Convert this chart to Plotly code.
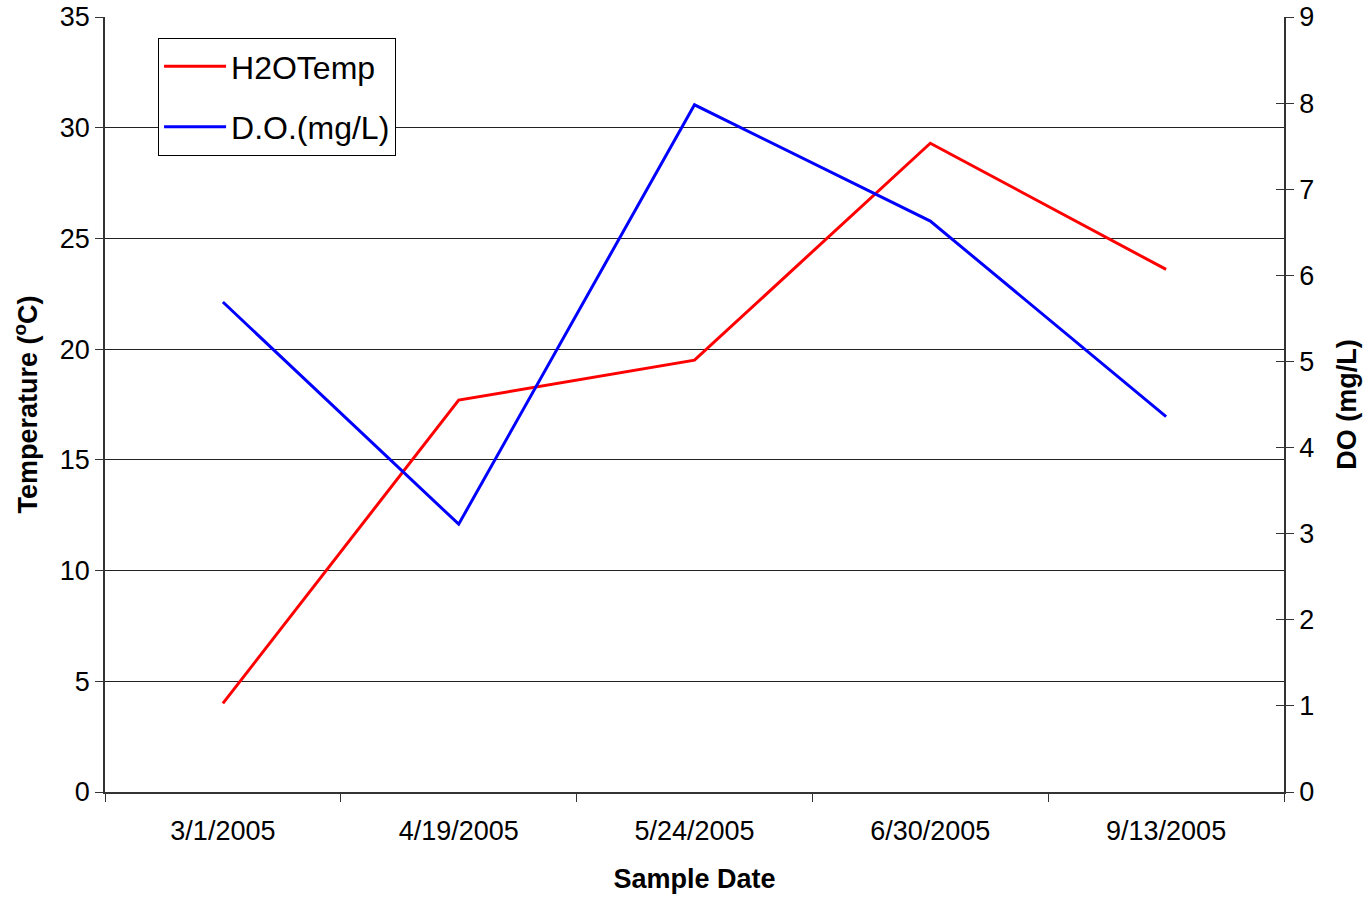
import plotly.graph_objects as go

dates = ["3/1/2005", "4/19/2005", "5/24/2005", "6/30/2005", "9/13/2005"]
temp_c = [4.0, 17.7, 19.5, 29.3, 23.6]
do_mgl = [5.69, 3.11, 7.98, 6.63, 4.36]

fig = go.Figure()
fig.add_trace(go.Scatter(x=dates, y=temp_c, mode="lines", name="H2OTemp",
                         legendgroup="a",
                         line=dict(color="#FF0000", width=3), yaxis="y"))
fig.add_trace(go.Scatter(x=dates, y=do_mgl, mode="lines", name="D.O.(mg/L)",
                         legendgroup="b",
                         line=dict(color="#0000FF", width=3), yaxis="y2"))
fig.add_trace(go.Scatter(x=[dates[0]], y=[None], yaxis="y3", showlegend=False,
                         hoverinfo="skip"))

font = "Liberation Sans, Arial, sans-serif"
fig.update_layout(
    width=1365, height=897,
    margin=dict(l=105, r=81, t=17, b=105),
    plot_bgcolor="white", paper_bgcolor="white",
    font=dict(family=font, color="black", size=27),
    showlegend=True,
    legend=dict(x=0.045, y=0.973, xanchor="left", yanchor="top",
                bgcolor="white", bordercolor="black", borderwidth=1,
                font=dict(size=32, family=font),
                traceorder="grouped", tracegroupgap=16,
                itemwidth=62, entrywidth=250, entrywidthmode="pixels"),
    xaxis=dict(type="category", range=[-0.5, 4.5], tickson="boundaries",
               ticks="outside", ticklen=8, automargin=False,
               tickcolor="#333", showline=True, linecolor="#333", linewidth=1.5,
               showgrid=False, tickfont=dict(size=27), ticklabelstandoff=14,
               title=dict(text="<b>Sample Date</b>", font=dict(size=27), standoff=24)),
    yaxis=dict(range=[0, 35], dtick=5, ticks="outside", ticklen=8, tickcolor="#333",
               showline=True, linecolor="#333", linewidth=1.5, automargin=False,
               showgrid=True, gridcolor="#222", gridwidth=1, zeroline=False,
               tickfont=dict(size=27),
               title=dict(text="<b>Temperature (<sup>o</sup>C)</b>", font=dict(size=27), standoff=14)),
    yaxis2=dict(range=[0, 9], dtick=1, overlaying="y", side="right", anchor="x",
                ticks="outside", ticklen=8, tickcolor="#333", automargin=False,
                showline=True, linecolor="#333", linewidth=1.5,
                showgrid=False, zeroline=False, tickfont=dict(size=27),
                title=dict(text="<b>DO (mg/L)</b>", font=dict(size=27), standoff=24)),
    yaxis3=dict(range=[0, 9], dtick=1, overlaying="y", side="right", anchor="x",
                ticks="inside", ticklen=8, tickcolor="#333", automargin=False,
                showline=False, showgrid=False, zeroline=False, showticklabels=False),
)

fig.write_html("out.html")
